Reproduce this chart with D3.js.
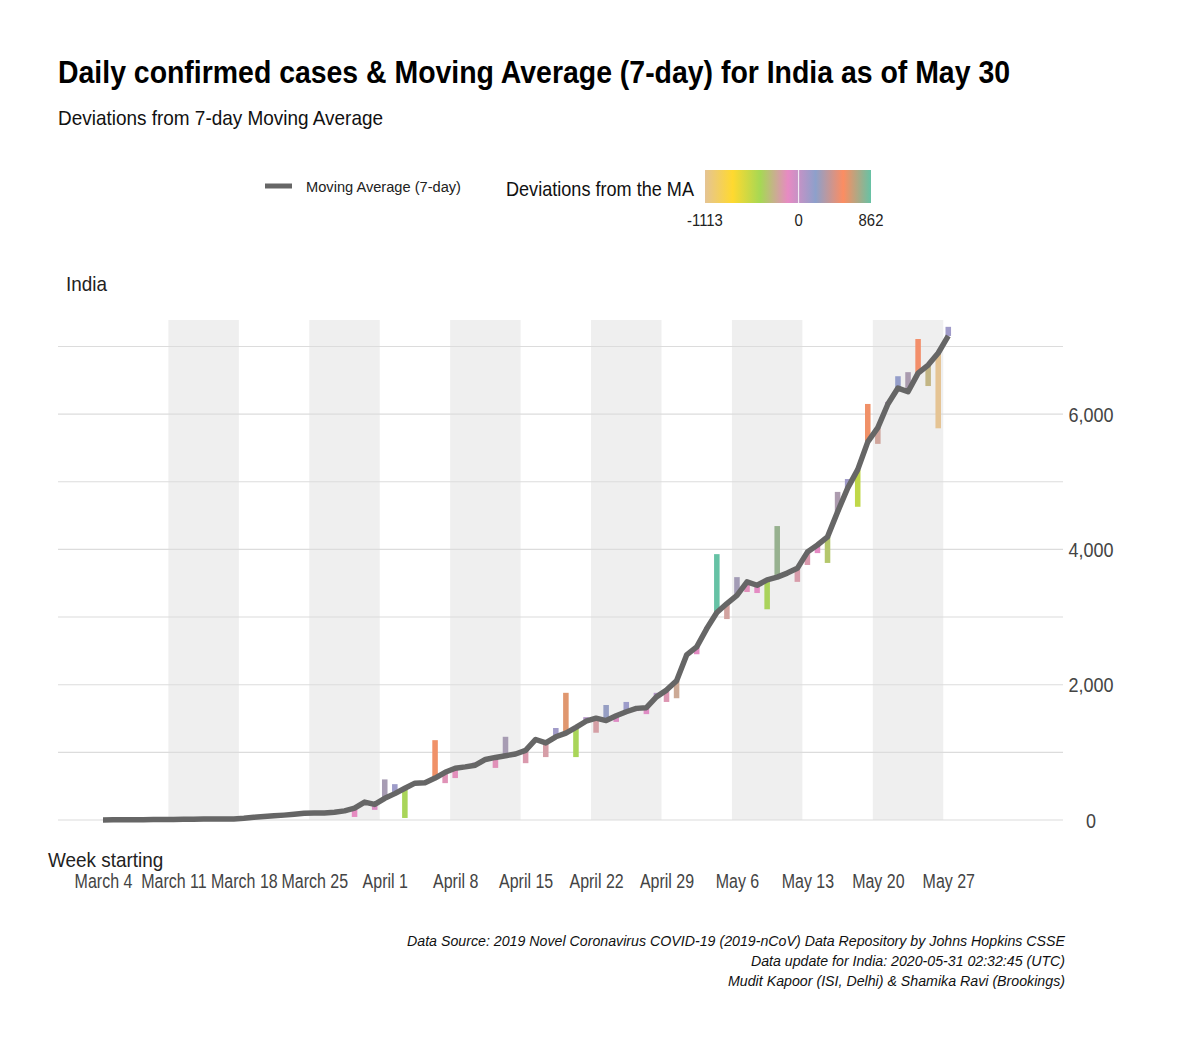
<!DOCTYPE html>
<html><head><meta charset="utf-8">
<script src="https://cdn.jsdelivr.net/npm/d3@7"></script>
<style>body{margin:0;background:#fff}text{font-family:"Liberation Sans",Arial,Helvetica,sans-serif}</style>
</head><body><svg id="c" width="1200" height="1047"></svg>
<script>
// ---------------- data ----------------
const startDate = "2020-03-04";
const maValues = [
  1,2,3,4,5,6,7,9,10,12,13,14,15,
  16,25,40,50,62,72,85,100,105,103,115,135,
  175,265,230,320,390,470,545,550,620,705,
  765,785,810,895,925,950,975,1030,1190,1140,
  1230,1285,1370,1460,1505,1470,1540,1600,1650,1660,
  1820,1920,2060,2440,2560,2830,3068,3200,3320,3520,
  3470,3550,3590,3650,3720,3960,4065,4185,4555,4905,
  5180,5590,5800,6150,6385,6330,6605,6725,6903,7155
];
const dailyValues = [
  2,1,3,5,6,8,6,10,12,11,14,13,16,
  15,28,45,52,65,75,88,80,108,98,118,140,
  45,270,150,600,530,30,550,540,1180,545,
  620,790,850,900,770,1230,1000,840,1200,930,
  1360,1880,930,1520,1290,1700,1450,1745,1610,1565,
  1880,1745,1800,2450,2450,2850,3930,2970,3590,3370,
  3355,3115,4345,3660,3520,3770,3945,3800,4850,5040,
  4630,6150,5560,6180,6560,6620,7110,6415,5790,7290
];
const weekTickLabels = ["March 4","March 11","March 18","March 25","April 1","April 8","April 15","April 22","April 29","May 6","May 13","May 20","May 27"];
const shadedWeekOffsets = [7,21,35,49,63,77];
const yTickValues = [0,2000,4000,6000];
const yGridValues = [0,1000,2000,3000,4000,5000,6000,7000];
const devDomain = [-1113, 862];
const devLegendTicks = [-1113, 0, 862];
const devColors = ["#E5C494","#FFD92F","#A6D854","#E78AC3","#8DA0CB","#FC8D62","#66C2A5"];

// ---------------- setup ----------------
const svg = d3.select("#c");
svg.append("rect").attr("width",1200).attr("height",1047).attr("fill","#fff");
const DAY = 864e5;
const t0 = new Date(startDate + "T00:00:00Z");
const dayDate = k => new Date(t0.getTime() + k*DAY);
const data = maValues.map((m,i)=>({date: dayDate(i), ma: m, daily: dailyValues[i], dev: dailyValues[i]-m}));

const x = d3.scaleUtc().domain([dayDate(-4.47), dayDate(95.4)]).range([58,1063]);
const y = d3.scaleLinear().domain([0,7391]).range([820,320]);
const devStops = devColors.map((c,k)=> devDomain[0] + k*(devDomain[1]-devDomain[0])/(devColors.length-1));
const color = d3.scaleLinear().domain(devStops).range(devColors).clamp(true);

// shaded weeks
svg.append("g").selectAll("rect").data(shadedWeekOffsets).join("rect")
  .attr("x", d=>x(dayDate(d-0.5))).attr("width", d=>x(dayDate(d+6.5))-x(dayDate(d-0.5)))
  .attr("y", y(7391)).attr("height", y(0)-y(7391)).attr("fill","#efefef");

// grid
svg.append("g").selectAll("line").data(yGridValues).join("line")
  .attr("x1",58).attr("x2",1063).attr("y1",d=>y(d)).attr("y2",d=>y(d))
  .attr("stroke","#dcdcdc").attr("stroke-width",1.1);

// y axis (right)
const yAxis = d3.axisRight(y).tickValues(yTickValues).tickFormat(d3.format(",")).tickSize(0).tickPadding(0);
const ya = svg.append("g").attr("transform","translate(1091,0)").call(yAxis);
ya.select(".domain").remove();
ya.selectAll("text").attr("text-anchor","middle").attr("font-size",20).attr("fill","#444").attr("dy","0.35em");

// x axis
const tickDates = weekTickLabels.map((l,k)=>dayDate(k*7));
const xAxis = d3.axisBottom(x).tickValues(tickDates).tickFormat((d,k)=>weekTickLabels[k]).tickSize(0).tickPadding(0);
const xa = svg.append("g").attr("transform","translate(0,874)").call(xAxis);
xa.select(".domain").remove();
xa.selectAll("text").attr("font-size",19.5).attr("fill","#444").attr("dy","0.71em")
  .attr("class","xt");

// deviation bars
const bw = x(dayDate(0.55)) - x(dayDate(0));
svg.append("g").selectAll("rect").data(data).join("rect")
  .attr("x", d=>x(d.date)-bw/2).attr("width", bw)
  .attr("y", d=>y(Math.max(d.ma,d.daily)))
  .attr("height", d=>Math.abs(y(d.daily)-y(d.ma)))
  .attr("fill", d=>color(d.dev));

// moving average line
svg.append("path").datum(data)
  .attr("d", d3.line().x(d=>x(d.date)).y(d=>y(d.ma)))
  .attr("fill","none").attr("stroke","#666666").attr("stroke-width",5.5)
  .attr("stroke-linejoin","round").attr("stroke-linecap","butt");

// titles
svg.append("text").attr("x",58).attr("y",83).attr("font-size",32).attr("font-weight","bold").attr("fill","#000")
  .attr("textLength",952).attr("lengthAdjust","spacingAndGlyphs")
  .text("Daily confirmed cases & Moving Average (7-day) for India as of May 30");
svg.append("text").attr("x",58).attr("y",125).attr("font-size",21).attr("fill","#111")
  .attr("textLength",325).attr("lengthAdjust","spacingAndGlyphs")
  .text("Deviations from 7-day Moving Average");

// legend
svg.append("line").attr("x1",265).attr("x2",292).attr("y1",186).attr("y2",186).attr("stroke","#666").attr("stroke-width",5);
svg.append("text").attr("x",306).attr("y",192).attr("font-size",15.5).attr("fill","#222")
  .attr("textLength",155).attr("lengthAdjust","spacingAndGlyphs").text("Moving Average (7-day)");
svg.append("text").attr("x",506).attr("y",196).attr("font-size",21).attr("fill","#111")
  .attr("textLength",188).attr("lengthAdjust","spacingAndGlyphs").text("Deviations from the MA");
const lg = svg.append("defs").append("linearGradient").attr("id","devgrad");
lg.selectAll("stop").data(devColors).join("stop")
  .attr("offset",(d,k)=>(k/(devColors.length-1)*100)+"%").attr("stop-color",d=>d);
const lx = d3.scaleLinear().domain(devDomain).range([705,871]);
svg.append("rect").attr("x",705).attr("y",170).attr("width",166).attr("height",33).attr("fill","url(#devgrad)");
svg.append("line").attr("x1",lx(0)).attr("x2",lx(0)).attr("y1",170).attr("y2",203).attr("stroke","#fff").attr("stroke-width",1.2).attr("opacity",0.8);
svg.append("g").selectAll("text").data(devLegendTicks).join("text")
  .attr("x",d=>lx(d)).attr("y",226).attr("text-anchor","middle").attr("font-size",16.5).attr("fill","#222").text(d=>d);

// strip + axis title
svg.append("text").attr("x",66).attr("y",291).attr("font-size",21).attr("fill","#222").text("India");
svg.append("text").attr("x",48).attr("y",867).attr("font-size",21).attr("fill","#222").text("Week starting");

// caption
const caps = [
  ["Data Source: 2019 Novel Coronavirus COVID-19 (2019-nCoV) Data Repository by Johns Hopkins CSSE",658,946],
  ["Data update for India: 2020-05-31 02:32:45 (UTC)",314,966],
  ["Mudit Kapoor (ISI, Delhi) & Shamika Ravi (Brookings)",337,986]
];
svg.append("g").selectAll("text").data(caps).join("text")
  .attr("x",1065).attr("y",d=>d[2]).attr("text-anchor","end").attr("font-size",15).attr("font-style","italic").attr("fill","#111")
  .attr("textLength",d=>d[1]).attr("lengthAdjust","spacingAndGlyphs").text(d=>d[0]);

// condense remaining text horizontally (narrow look of reference)
svg.selectAll("text").each(function(){
  if (!this.getAttribute("textLength")) {
    const w = this.getComputedTextLength();
    const f = this.getAttribute("class") === "xt" ? 0.82 : 0.9;
    this.setAttribute("textLength", (w*f).toFixed(1));
    this.setAttribute("lengthAdjust","spacingAndGlyphs");
  }
});
</script></body></html>
